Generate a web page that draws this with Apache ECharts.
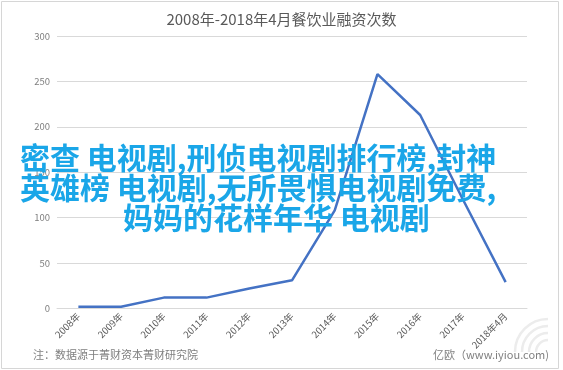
<!DOCTYPE html>
<html>
<head>
<meta charset="utf-8">
<script src="https://cdn.jsdelivr.net/npm/echarts@6/dist/echarts.min.js"></script>
<style>
  html, body { margin: 0; padding: 0; background: #fff; }
  #chart { width: 563px; height: 370px; }
</style>
</head>
<body>
<div id="chart"></div>
<script>
// 2008年-2018年4月 餐饮业融资次数
const categories = ['2008年', '2009年', '2010年', '2011年', '2012年', '2013年', '2014年', '2015年', '2016年', '2017年', '2018年4月'];
const financingCounts = [2, 2, 12, 12, 22, 31, 108, 258, 213, 120, 29];
const yTicks = [0, 50, 100, 150, 200, 250, 300];

const titleText = '2008年-2018年4月餐饮业融资次数';
const sourceText = '注：数据源于菁财资本菁财研究院';
const brandText = '亿欧（www.iyiou.com)';
const bannerLines = [
  '密查 电视剧,刑侦电视剧排行榜,封神',
  '英雄榜 电视剧,无所畏惧电视剧免费,',
  '妈妈的花样年华 电视剧'
];

const FONT = '"Noto Sans CJK SC", "Noto Sans", sans-serif';
const chart = echarts.init(document.getElementById('chart'), null, { renderer: 'canvas' });

const bannerPos = [[20, 158], [20, 188], [123, 218]];

// faint nested arcs of the brand mark in the lower right corner
const markArcs = [0, 1, 2, 3].map(k => ({
  type: 'arc', silent: true, z: 0,
  shape: { cx: 548, cy: 352, r: 12 + k * 7, startAngle: Math.PI, endAngle: Math.PI * 1.5 },
  style: { fill: 'none', stroke: '#ececec', lineWidth: 2.5 }
}));

chart.setOption({
  backgroundColor: '#ffffff',
  animation: false,
  title: {
    text: titleText,
    left: 'center',
    top: 7,
    textStyle: { fontFamily: FONT, fontSize: 15, fontWeight: 'normal', color: '#595959' }
  },
  grid: { left: 57, right: 36, top: 36, bottom: 61.5, containLabel: false },
  xAxis: {
    type: 'category',
    data: categories,
    boundaryGap: true,
    axisLine: { show: true, lineStyle: { color: '#d9d9d9', width: 1 } },
    axisTick: { show: false },
    axisLabel: {
      rotate: 45, interval: 0, margin: 6,
      fontFamily: FONT, fontSize: 9.5, color: '#595959'
    }
  },
  yAxis: {
    type: 'value',
    min: yTicks[0],
    max: yTicks[yTicks.length - 1],
    interval: 50,
    axisLine: { show: false },
    axisTick: { show: false },
    splitLine: { lineStyle: { color: '#d9d9d9', width: 1 } },
    axisLabel: { margin: 7, fontFamily: FONT, fontSize: 9.5, color: '#7f7f7f' }
  },
  series: [{
    type: 'line',
    data: financingCounts,
    symbol: 'none',
    lineStyle: { color: '#4472C4', width: 2.5 },
    z: 3
  }],
  graphic: [
    {
      type: 'rect', silent: true, z: 0,
      shape: { x: 1.5, y: 1.5, width: 557, height: 367 },
      style: { fill: 'none', stroke: '#d6d6d6', lineWidth: 1 }
    },
    {
      type: 'text', silent: true, left: 33, top: 349,
      style: { text: sourceText, font: '11px ' + FONT, fill: '#7f7f7f' }
    },
    {
      type: 'text', silent: true, left: 433, top: 349,
      style: { text: brandText, font: '11px ' + FONT, fill: '#7f7f7f' }
    }
  ].concat(markArcs).concat(bannerLines.map((line, i) => ({
    type: 'text', silent: true, z: 10,
    x: bannerPos[i][0], y: bannerPos[i][1],
    style: {
      text: line,
      font: 'bold 30px ' + FONT,
      fill: '#1aa6e8',
      verticalAlign: 'middle'
    }
  })))
});
</script>
</body>
</html>
